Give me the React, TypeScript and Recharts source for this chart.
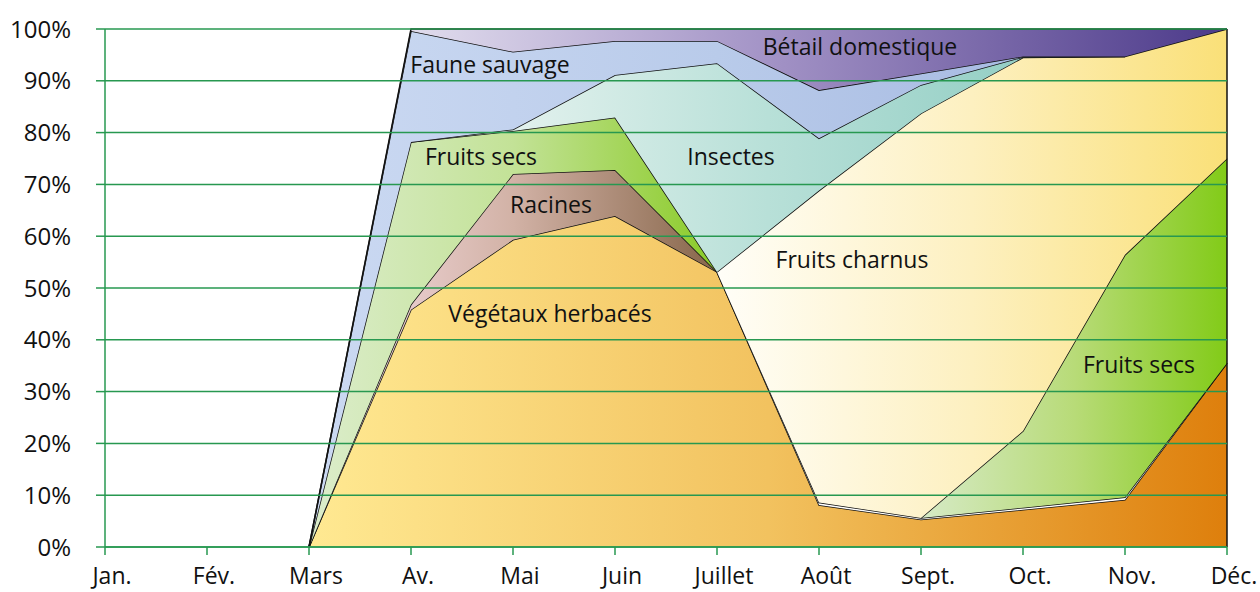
import React from 'react';
import { AreaChart, Area, XAxis, YAxis, ReferenceLine, ReferenceDot } from 'recharts';

// part du régime alimentaire (%), null = catégorie absente ce mois-là
const MONTHS = ['Jan.', 'Fév.', 'Mars', 'Av.', 'Mai', 'Juin', 'Juillet', 'Août', 'Sept.', 'Oct.', 'Nov.', 'Déc.'];
const VEGETAUX = [null, null, 0, 45.8, 59.3, 63.9, 53.1, 8.1, 5.3, 7.2, 9.1, 35.5];
const AUTRES = [null, null, null, null, null, null, 0, 0.5, 0.3, 0.4, 0.5, 0];
const RACINES = [null, null, 0, 1.0, 12.7, 8.9, 0, null, null, null, null, null];
const FRUITS_SECS_PRINTEMPS = [null, null, 0, 31.4, 8.3, 10.1, 0, null, null, null, null, null];
const FRUITS_SECS_AUTOMNE = [null, null, null, null, null, null, null, null, 0, 14.8, 46.8, 39.5];
const FRUITS_CHARNUS = [null, null, null, null, null, null, 0, 60.2, 78.1, 72.1, 38.3, 25.0];
const INSECTES = [null, null, null, 0, 0.3, 8.2, 40.3, 10.1, 5.5, 0.1, 0, null];
const FAUNE = [null, null, 0, 21.4, 15.0, 6.6, 4.3, 9.3, 2.2, 0.1, 0, null];
const BETAIL = [null, null, 0, 0.4, 4.4, 2.3, 2.3, 11.8, 8.6, 5.3, 5.3, 0];
const Y_TICKS = [0, 10, 20, 30, 40, 50, 60, 70, 80, 90, 100];

const data = MONTHS.map((month, i) => ({
  month,
  vegetaux: VEGETAUX[i],
  autres: AUTRES[i],
  racines: RACINES[i],
  fsPrintemps: FRUITS_SECS_PRINTEMPS[i],
  fsAutomne: FRUITS_SECS_AUTOMNE[i],
  charnus: FRUITS_CHARNUS[i],
  insectes: INSECTES[i],
  faune: FAUNE[i],
  betail: BETAIL[i],
}));

// series in stacking order, bottom to top, with gradient stops (left -> right)
const SERIES = [
  { key: 'vegetaux', stops: ['#FFE992', '#F2C25F', '#DE7F0C'] },
  { key: 'autres', stops: ['#FFFFFF', '#FFFFFF', '#FFFFFF'] },
  { key: 'racines', stops: ['#FBE2EC', '#D2B2A6', '#87664A'] },
  { key: 'fsPrintemps', stops: ['#DCEDCC', '#C3E297', '#8ACB27'] },
  { key: 'fsAutomne', stops: ['#D6EAC6', '#B8DB78', '#82CB18'] },
  { key: 'charnus', stops: ['#FFFEF8', '#FDF0C0', '#FAE078'] },
  { key: 'insectes', stops: ['#F3F8F6', '#B8E0D8', '#86C8BD'] },
  { key: 'faune', stops: ['#CBD9F2', '#B9CBEA', '#A2B6E0'] },
  { key: 'betail', stops: ['#F2F1F8', '#A393C6', '#4C3A8A'] },
];

const LABELS = [
  { text: 'Faune sauvage', month: 'Av.', value: 91.5, dx: 79 },
  { text: 'Bétail domestique', month: 'Août', value: 95.0, dx: 41 },
  { text: 'Fruits secs', month: 'Av.', value: 73.7, dx: 70 },
  { text: 'Insectes', month: 'Juillet', value: 73.7, dx: 14 },
  { text: 'Racines', month: 'Mai', value: 64.5, dx: 38 },
  { text: 'Fruits charnus', month: 'Août', value: 53.8, dx: 33 },
  { text: 'Végétaux herbacés', month: 'Mai', value: 43.5, dx: 37 },
  { text: 'Fruits secs', month: 'Nov.', value: 33.6, dx: 14 },
];

const GREEN = '#279850';
const FONT = '"Open Sans", sans-serif';

const MonthTick = (props: any) => {
  const { x, y, payload } = props;
  return (
    <text x={x + 7} y={y} dy="0.71em" textAnchor="middle" fontSize={23} fontFamily={FONT} fill="#111">
      {payload.value}
    </text>
  );
};

export default function App() {
  return (
    <div style={{ width: 1260, height: 592 }}>
      <style>{'body{margin:0}'}</style>
      <AreaChart width={1260} height={592} data={data} margin={{ top: 29, right: 33, bottom: 0, left: 0 }}>
        <defs>
          {SERIES.map((s) => (
            <linearGradient key={s.key} id={`g-${s.key}`} x1="0" y1="0" x2="1" y2="0">
              <stop offset="0%" stopColor={s.stops[0]} />
              <stop offset="50%" stopColor={s.stops[1]} />
              <stop offset="100%" stopColor={s.stops[2]} />
            </linearGradient>
          ))}
        </defs>
        <XAxis
          dataKey="month"
          height={45}
          tick={<MonthTick />}
          tickSize={8}
          tickMargin={13}
          axisLine={{ stroke: GREEN, strokeWidth: 1.5 }}
          tickLine={{ stroke: GREEN, strokeWidth: 1.5 }}
          interval={0}
        />
        <YAxis
          width={105}
          domain={[0, 100]}
          ticks={Y_TICKS}
          tickFormatter={(v) => `${v}%`}
          tickSize={9}
          tickMargin={25}
          axisLine={{ stroke: GREEN, strokeWidth: 1.5 }}
          tickLine={{ stroke: GREEN, strokeWidth: 1.5 }}
          tick={{ fontSize: 24, fontFamily: FONT, fill: '#111' }}
        />
        {SERIES.map((s) => (
          <Area
            key={s.key}
            type="linear"
            dataKey={s.key}
            stackId="1"
            stroke="#111"
            strokeWidth={1.5}
            fill={`url(#g-${s.key})`}
            fillOpacity={1}
            dot={false}
            activeDot={false}
            isAnimationActive={false}
          />
        ))}
        <ReferenceLine x="Déc." stroke="#111" strokeWidth={1.5} />
        {Y_TICKS.map((t) => (
          <ReferenceLine key={t} y={t} stroke={GREEN} strokeWidth={1.5} />
        ))}
        {LABELS.map((l, i) => (
          <ReferenceDot
            key={i}
            x={l.month}
            y={l.value}
            r={1}
            fill="none"
            stroke="none"
            label={{
              content: (p: any) => (
                <text
                  x={p.viewBox.x + p.viewBox.width / 2 + l.dx}
                  y={p.viewBox.y + p.viewBox.height / 2}
                  textAnchor="middle"
                  fontSize={23}
                  fontFamily={FONT}
                  fill="#111"
                >
                  {l.text}
                </text>
              ),
            }}
          />
        ))}
      </AreaChart>
    </div>
  );
}
